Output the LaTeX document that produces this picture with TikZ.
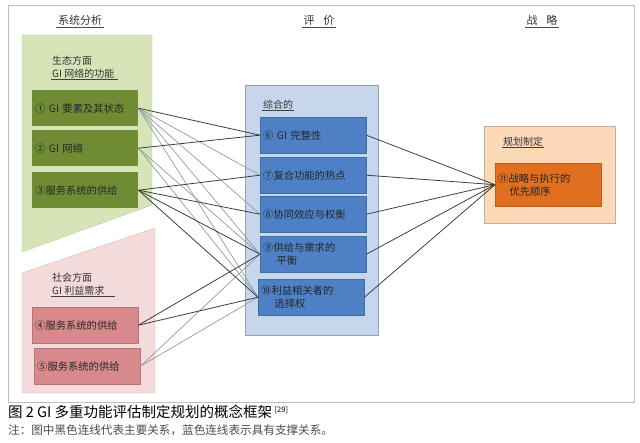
\documentclass[tikz,border=0pt]{standalone}
\usepackage{fontspec}
\setmainfont{Noto Sans CJK SC}
\usepackage{tikz}
\usetikzlibrary{positioning}
\definecolor{grnpoly}{HTML}{D6E4B8}
\definecolor{grnline}{HTML}{BDD09A}
\definecolor{grnbox}{HTML}{6F8C35}
\definecolor{pnkpoly}{HTML}{F3DADB}
\definecolor{pnkline}{HTML}{E0B7B9}
\definecolor{pnkbox}{HTML}{D8898C}
\definecolor{bluout}{HTML}{C6D7ED}
\definecolor{blubox}{HTML}{4D80C4}
\definecolor{orgout}{HTML}{FCD9B7}
\definecolor{orgbox}{HTML}{E06F1F}
\definecolor{mainln}{HTML}{3A4046}
\definecolor{suppln}{HTML}{8F9CAA}
\tikzset{box/.style={rectangle,anchor=north west,minimum width=106pt,minimum height=36pt,text width=100pt,inner sep=3pt,align=left,font=\fontsize{10.3}{13}\selectfont,text=black!85},
gbox/.style={box,fill=grnbox},
pbox/.style={box,fill=pnkbox,draw=pnkbox!85!black},
bbox/.style={box,fill=blubox,draw=blubox!85!black},
obox/.style={box,fill=orgbox,draw=orgbox!85!black},
head/.style={anchor=north west,inner sep=1pt,align=left,font=\fontsize{10}{13}\selectfont,text=black!80},
title/.style={inner sep=1.5pt,font=\fontsize{11}{13}\selectfont,text=black!80},
main/.style={mainln,line width=0.8pt},
supp/.style={suppln,line width=0.7pt}}

\begin{document}
\begin{tikzpicture}[x=1pt,y=-1pt,>=stealth]
    \useasboundingbox (0,0) rectangle (640,443);
    \draw [black!25,line width=0.8pt] (8,5) rectangle (634,402);

    \node[title] (t1)at (80,20) {系统分析};
    \node[title] (t2)at (319,20) {评\hspace{0.8em}价};
    \node[title] (t3)at (542,20) {战\hspace{0.8em}略};
    \draw [black!70] (t1.south west) -- (t1.south east);
    \draw [black!70] (t2.south west) -- (t2.south east);
    \draw [black!70] (t3.south west) -- (t3.south east);

    \fill [grnpoly,draw=grnline] (22,35) -- (152,35) -- (152,205) -- (22,252) -- cycle;
    \fill [pnkpoly,draw=pnkline] (22,273) -- (155,228) -- (155,393) -- (22,393) -- cycle;
    \fill [bluout,draw=bluout!75!black] (245,85) rectangle (378,335);
    \fill [orgout,draw=orgout!80!black] (484,126) rectangle (615,223);

    \node[head] (h1)at (51,55) {生态方面\\GI 网络的功能};
    \node[head] (h2)at (51,272) {社会方面\\GI 利益需求};
    \node[head] (h3)at (262,99) {综合的};
    \node[head] (h4)at (502,136) {规划制定};
    \draw [black!75] (h1.south west) -- ([xshift=3pt]h1.south east);
    \draw [black!75] (h2.south west) -- ([xshift=10pt]h2.south east);
    \draw [black!75] (h3.south west) -- (h3.south east);
    \draw [black!75] (h4.south west) -- (h4.south east);

    \node[gbox] (g1)at (32,90) {① GI 要素及其状态};
    \node[gbox] (g2)at (32,130) {② GI 网络};
    \node[gbox] (g3)at (32,172) {③服务系统的供给};
    \node[pbox] (p4)at (32,307) {④服务系统的供给};
    \node[pbox] (p5)at (34,348) {⑤服务系统的供给};

    \node[bbox] (b6)at (260,117) {⑥ GI 完整性};
    \node[bbox] (b7)at (260,157) {⑦复合功能的热点};
    \node[bbox] (b8)at (260,196) {⑧协同效应与权衡};
    \node[bbox] (b9)at (260,236) {⑨供给与需求的\\\hspace{1.3em}平衡};
    \node[bbox] (b10)at (258,279) {⑩利益相关者的\\\hspace{1.3em}选择权};

    \node[obox,minimum width=106pt,minimum height=43pt] (s11)at (495,163) {⑪战略与执行的\\\hspace{1.1em}优先顺序};

    % supporting relations
    \draw [supp] (g1.east) to (b7.west);
    \draw [supp] (g1.east) to (b8.west);
    \draw [supp] (g1.east) to (b9.west);
    \draw [supp] (g1.east) to (b10.west);
    \draw [supp] (g2.east) to (b9.west);
    \draw [supp] (g2.east) to (b10.west);
    \draw [supp] (p5.east) to (b9.west);
    \draw [supp] (p5.east) to (b10.west);

    % main relations
    \draw [main] (g1.east) to (b6.west);
    \draw [main] (g2.east) to (b6.west);
    \draw [main] (g3.east) to (b7.west);
    \draw [main] (g3.east) to (b8.west);
    \draw [main] (g3.east) to (b9.west);
    \draw [main] (g3.east) to (b10.west);
    \draw [main] (p4.east) to (b9.west);
    \draw [main] (p4.east) to (b10.west);

    \draw [main] (b6.east) to (s11.west);
    \draw [main] (b7.east) to (s11.west);
    \draw [main] (b8.east) to (s11.west);
    \draw [main] (b9.east) to (s11.west);
    \draw [main] (b10.east) to (s11.west);

    \node[anchor=north west,inner sep=0pt,font=\fontsize{14.5}{16}\selectfont] (cap)at (8,405) {图 2 GI 多重功能评估制定规划的概念框架\,\raisebox{0.6ex}{\fontsize{7.5}{8}\selectfont [29]}};
    \node[anchor=north west,inner sep=0pt,font=\fontsize{11.6}{13}\selectfont,text=black!70] (note)at (8,425) {注：图中黑色连线代表主要关系，蓝色连线表示具有支撑关系。};
\end{tikzpicture}
\end{document}
